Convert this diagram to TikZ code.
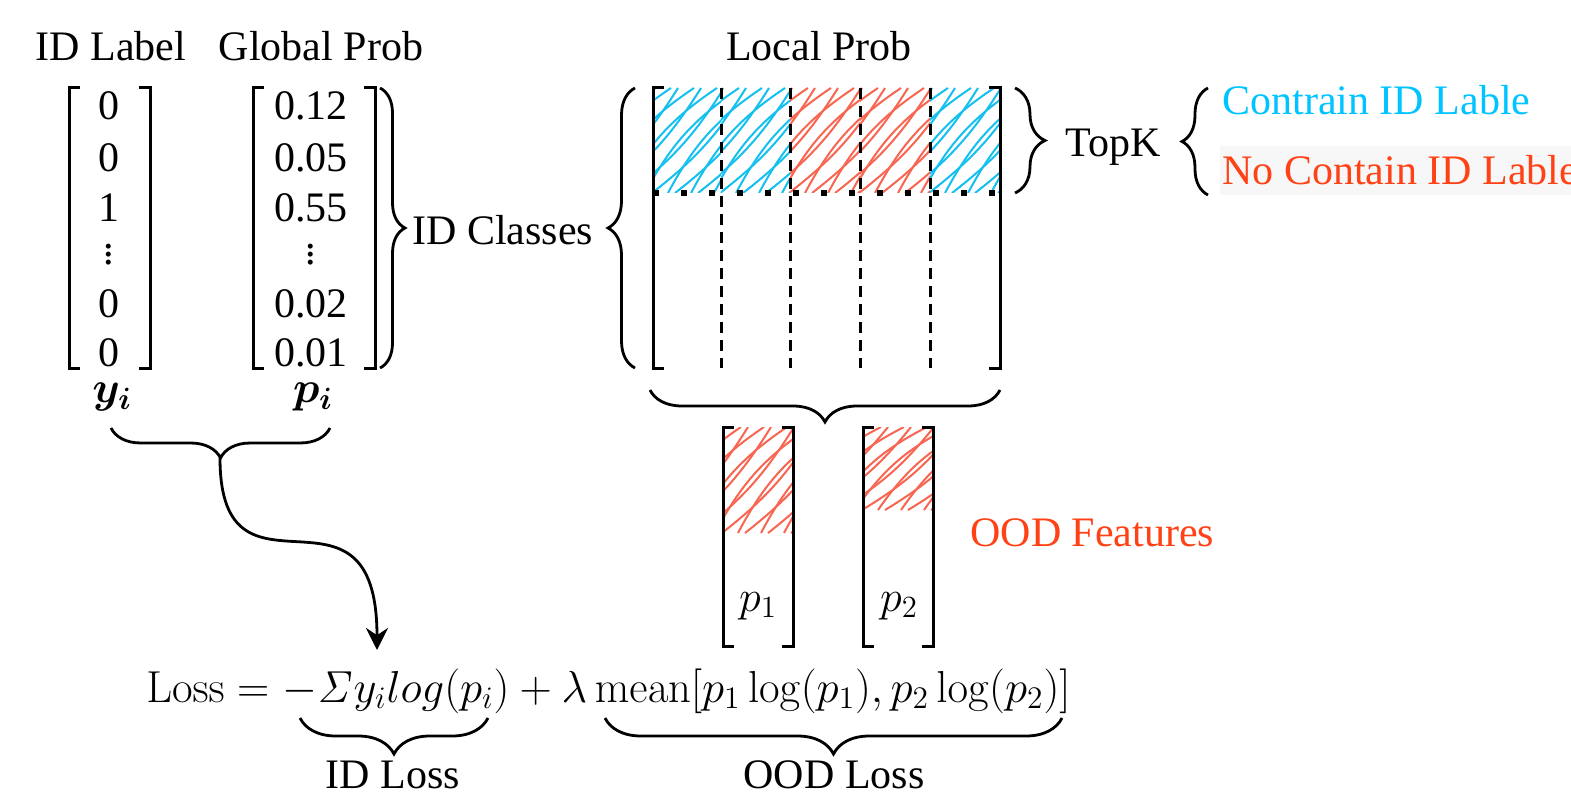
\RequirePackage{fix-cm}
\documentclass[tikz,border=0pt]{standalone}
\usepackage[no-math]{fontspec}
\setmainfont{Liberation Serif}
\usepackage{bm}
\usetikzlibrary{decorations.pathreplacing,arrows.meta}
\definecolor{cy}{RGB}{20,192,240}
\definecolor{cyt}{RGB}{0,196,255}
\definecolor{hred}{RGB}{248,102,82}
\definecolor{tred}{RGB}{255,66,22}
\newcommand\lbrk[3]{\draw[brk] (#1+11,#2) -- (#1,#2) -- (#1,#3) -- (#1+11,#3);}
\newcommand\rbrk[3]{\draw[brk] (#1-11,#2) -- (#1,#2) -- (#1,#3) -- (#1-11,#3);}
\newcommand\hatchcell[5]{%
  \begin{scope}
    \clip (#1,#2) rectangle (#3,#4);
    \foreach \k in {0,...,8}{
      \draw[#5, line width=1pt] ({#1-100+\k*23},#4) to[bend left=14] ({#1-100+\k*23+95},#2);
      \draw[#5, line width=1pt] ({#1-93+\k*23},#4) to[bend right=10] ({#1-93+\k*23+95},#2);
    }
  \end{scope}}
\begin{document}
\begin{tikzpicture}[x=0.5pt,y=-0.5pt,
  t/.style={font=\fontsize{21}{25}\selectfont, inner sep=0pt},
  brk/.style={line width=1.5pt, line join=miter},
  vdash/.style={line width=1.5pt, dash pattern=on 5.5pt off 3.5pt},
  hdot/.style={line width=3pt, dash pattern=on 3pt off 11pt},
  brace/.style={line width=1.4pt, decorate, decoration={brace, amplitude=#1}},
  brace/.default=12pt]
\useasboundingbox (0,0) rectangle (1571,797);
\fill[white] (0,0) rectangle (1571,797);

% headers
\node[t, anchor=base] (hid) at (111,61) {ID Label};
\node[t, anchor=base] (hgp) at (321,61) {Global Prob};
\node[t, anchor=base] (hlp) at (819,61) {Local Prob};

% y matrix
\lbrk{69}{88}{368}
\rbrk{150}{88}{368}
\node[t, anchor=base] (y1) at (109,120) {0};
\node[t, anchor=base] (y2) at (109,172) {0};
\node[t, anchor=base] (y3) at (109,221) {1};
\node[t] (y4) at (109,249) {$\vdots$};
\node[t, anchor=base] (y5) at (109,317) {0};
\node[t, anchor=base] (y6) at (109,366) {0};
\node[t, font=\fontsize{22}{26}\selectfont] (yi) at (112,397) {$\bm{y_i}$};

% p matrix
\lbrk{253}{88}{368}
\rbrk{375}{88}{368}
\node[t, anchor=base] (p1) at (311,120) {0.12};
\node[t, anchor=base] (p2) at (311,172) {0.05};
\node[t, anchor=base] (p3) at (311,221) {0.55};
\node[t] (p4) at (311,249) {$\vdots$};
\node[t, anchor=base] (p5) at (311,317) {0.02};
\node[t, anchor=base] (p6) at (311,366) {0.01};
\node[t, font=\fontsize{22}{26}\selectfont] (pi) at (313,397) {$\bm{p_i}$};

% ID classes
\draw[brace=12.5pt] (380,88) -- (380,368);
\node[t, anchor=west] (idc) at (412,230) {ID Classes};
\draw[brace=13.5pt] (635,368) -- (635,88);

% local prob matrix hatch
\hatchcell{653}{88}{721}{193}{cy}
\hatchcell{721}{88}{790}{193}{cy}
\hatchcell{790}{88}{860}{193}{hred}
\hatchcell{860}{88}{930}{193}{hred}
\hatchcell{930}{88}{1000}{193}{cy}
\lbrk{653}{88}{368}
\rbrk{1000}{88}{368}
\foreach \xx in {721,790,860,930}{\draw[vdash] (\xx,88) -- (\xx,368);}
\draw[hdot] (653,193) -- (1000,193);

% topk
\draw[brace=15pt] (1015,88) -- (1015,193);
\node[t, anchor=base west] (topk) at (1065,157) {TopK};
\draw[brace=13pt] (1208,195) -- (1208,88);
\node[t, anchor=base west, text=cyt] (cont) at (1222,115) {Contrain ID Lable};
\node[t, anchor=west, text=tred, fill=black!3, inner xsep=1pt, minimum height=24.5pt] (ncont) at (1220,170.5) {No Contain ID Lable};

% brace below local
\draw[brace=16pt] (1000,390) -- (650,390);

% p1 p2 columns
\hatchcell{723}{427}{793}{533}{hred}
\hatchcell{863}{427}{933}{510}{hred}
\lbrk{723}{427}{646}
\rbrk{793}{427}{646}
\lbrk{863}{427}{646}
\rbrk{933}{427}{646}
\node[t, font=\fontsize{22}{26}\selectfont] (pp1) at (758,606) {$p_1$};
\node[t, font=\fontsize{22}{26}\selectfont] (pp2) at (899,606) {$p_2$};
\node[t, anchor=west, text=tred] (oodf) at (970,533) {OOD Features};

% brace under y_i p_i and arrow
\draw[brace=15pt] (330,428) -- (111,428);
\coordinate (btip) at (220,458);
\coordinate (aend) at (377,650);
\draw[line width=1.4pt, -{Stealth[length=11pt,width=11pt]}] (btip) .. controls (220,620) and (377,460) .. (aend);

% loss
\node[t, anchor=base, font=\fontsize{22.4}{27}\selectfont] (loss) at (608.5,702) {$\mathrm{Loss} = -\mathit{\Sigma} y_i log(p_i) + \lambda\,\mathrm{mean}[p_1\log(p_1), p_2\log(p_2)]$};
\draw[brace=18pt] (488,718) -- (300,718);
\draw[brace=18pt] (1062,718) -- (605,718);
\node[t] (idl) at (393,775) {ID Loss};
\node[t] (oodl) at (834,775) {OOD Loss};
\end{tikzpicture}
\end{document}
